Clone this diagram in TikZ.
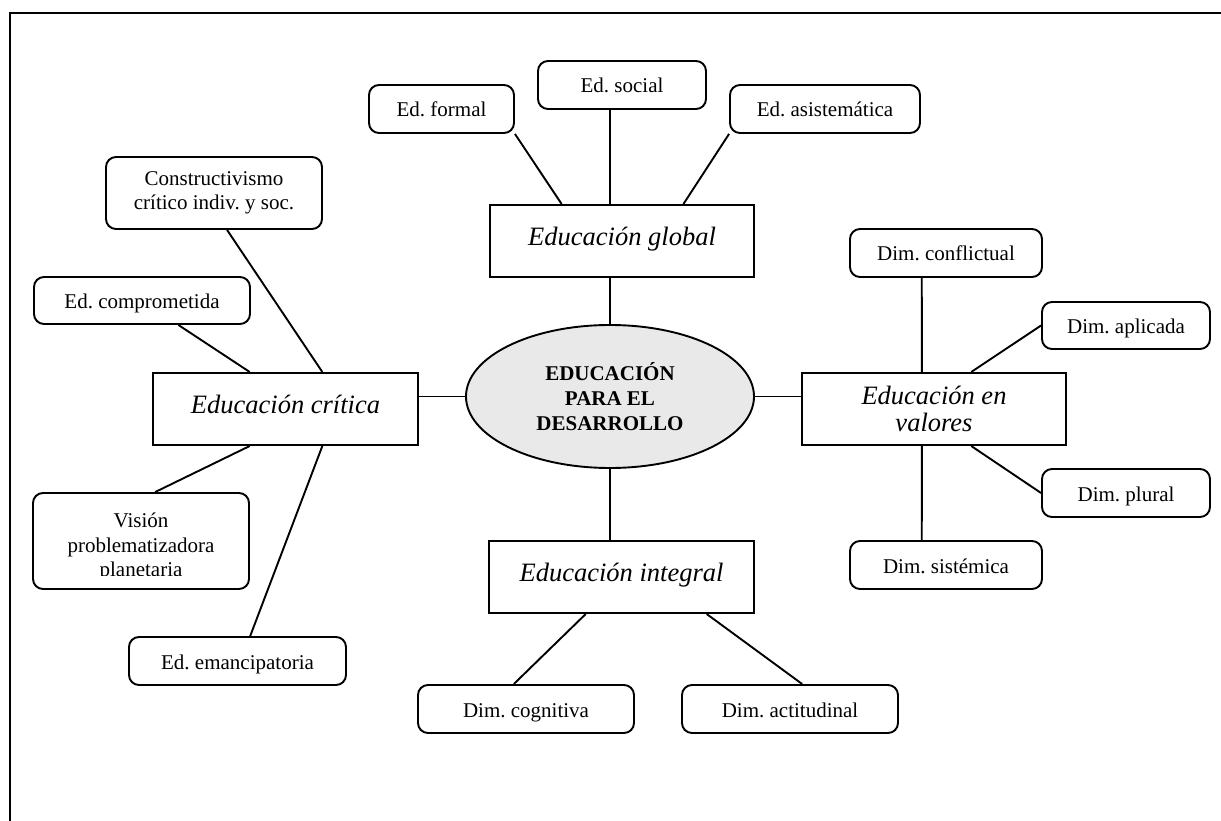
\documentclass[tikz,border=0pt]{standalone}
\usepackage{fontspec}
\setmainfont{Liberation Serif}
\usetikzlibrary{shapes.geometric,calc}
\frenchspacing

\begin{document}
\begin{tikzpicture}[x=1pt,y=-1pt,
  leafbox/.style={draw,line width=1.9pt,rounded corners=10pt,fill=white,inner sep=0pt,
    font=\fontsize{21}{24}\selectfont,align=center},
  leaf/.style={leafbox,text height=18pt,text depth=2pt},
  topicbox/.style={draw,line width=2pt,inner sep=0pt,
    font=\fontsize{26.5}{27}\selectfont\itshape,align=center},
  topic/.style={topicbox,text height=15pt,text depth=6pt},
  link/.style={line width=1.9pt},
]
\useasboundingbox (0,0) rectangle (1221,821);
% page frame (left and top edges)
\draw[line width=2.2pt] (10,821) -- (10,13) -- (1221,13);

% centre
\node[ellipse,draw,line width=1.9pt,fill=gray!17,minimum width=288,minimum height=143,inner sep=0pt,
  font=\fontsize{21}{25}\selectfont\bfseries,align=center] (ell) at (610,396.5)
  {EDUCACIÓN\\PARA EL\\DESARROLLO};

% main branches
\node[topic,minimum width=264,minimum height=72] (glob)  at (622,241)   {Educación global};
\node[topic,minimum width=265,minimum height=72] (crit)  at (285.5,409) {Educación crítica};
\node[topic,minimum width=265,minimum height=72] (integ) at (621.5,577) {Educación integral};
\node[topicbox,minimum width=264,minimum height=72] (val) at (934,409)  {Educación en\\valores};

% global
\node[leaf,minimum width=145,minimum height=48] (form) at (441.5,109) {Ed. formal};
\node[leaf,minimum width=168,minimum height=48] (soc)  at (622,85)    {Ed. social};
\node[leaf,minimum width=190,minimum height=48] (asis) at (825,109)   {Ed. asistemática};

% critica
\node[leafbox,minimum width=216,minimum height=72] (cons) at (214,193) {Constructivismo\\crítico indiv. y soc.};
\node[leaf,minimum width=216,minimum height=47] (comp) at (142,300.5)  {Ed. comprometida};
\node[leafbox,minimum width=216,minimum height=96] (vis) at (141,541)  {};
\begin{scope}
  \clip (33,493) rectangle (249,575);
  \node[font=\fontsize{21}{24.5}\selectfont,align=center,inner sep=0pt,anchor=base] (vistxt) at (141,576.5)
    {Visión\\problematizadora\\planetaria};
\end{scope}
\node[leaf,minimum width=217,minimum height=48] (eman) at (237.5,661) {Ed. emancipatoria};

% integral
\node[leaf,minimum width=216,minimum height=48] (cog) at (526,709) {Dim. cognitiva};
\node[leaf,minimum width=216,minimum height=48] (act) at (790,709) {Dim. actitudinal};

% valores
\node[leaf,minimum width=192,minimum height=48] (conf) at (946,253)    {Dim. conflictual};
\node[leaf,minimum width=168,minimum height=47] (apl)  at (1126,325.5) {Dim. aplicada};
\node[leaf,minimum width=168,minimum height=48] (plu)  at (1126,493)   {Dim. plural};
\node[leaf,minimum width=192,minimum height=48] (sis)  at (946,565)    {Dim. sistémica};

% centre links
\draw[link] (ell.north) -- (glob.south -| ell.north);
\draw[link] (ell.south) -- (integ.north -| ell.south);
\draw[link] (ell.west) -- (ell.west -| crit.east);
\draw[link] (ell.east) -- (ell.east -| val.west);

% global links
\draw[link] (soc.south -| ell.north) -- (glob.north -| ell.north);
\draw[link] (form.south east) -- ($(glob.north west)!0.273!(glob.north east)$);
\draw[link] (asis.south west) -- ($(glob.north west)!0.731!(glob.north east)$);

% critica links
\draw[link] ($(cons.south west)!0.56!(cons.south east)$) -- ($(crit.north west)!0.638!(crit.north east)$);
\draw[link] ($(comp.south west)!0.667!(comp.south east)$) -- ($(crit.north west)!0.366!(crit.north east)$);
\draw[link] ($(vis.north west)!0.565!(vis.north east)$) -- ($(crit.south west)!0.366!(crit.south east)$);
\draw[link] ($(eman.north west)!0.558!(eman.north east)$) -- ($(crit.south west)!0.638!(crit.south east)$);

% integral links
\draw[link] ($(cog.north west)!0.444!(cog.north east)$) -- ($(integ.south west)!0.366!(integ.south east)$);
\draw[link] ($(act.north west)!0.556!(act.north east)$) -- ($(integ.south west)!0.819!(integ.south east)$);

% valores links
\draw[link] ($(conf.south west)!0.375!(conf.south east)$) -- ($(val.north west)!0.4545!(val.north east)$);
\draw[link] ($(sis.north west)!0.375!(sis.north east)$) -- ($(val.south west)!0.4545!(val.south east)$);
\draw[link] (apl.west) -- ($(val.north west)!0.64!(val.north east)$);
\draw[link] (plu.west) -- ($(val.south west)!0.64!(val.south east)$);
\end{tikzpicture}
\end{document}
